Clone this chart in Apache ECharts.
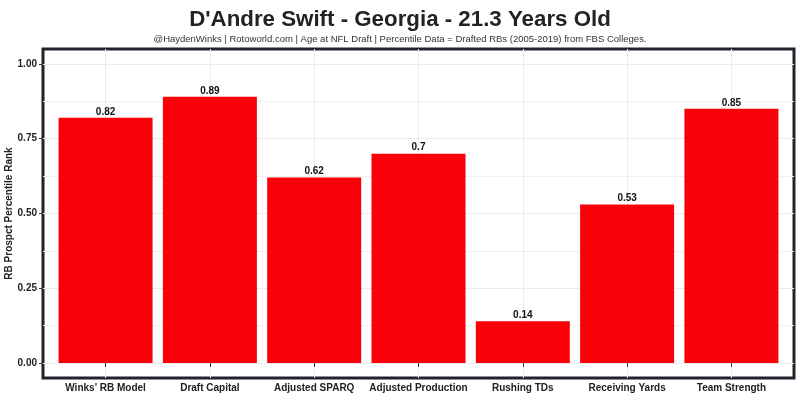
<!DOCTYPE html>
<html>
<head>
<meta charset="utf-8">
<script src="https://cdn.jsdelivr.net/npm/echarts@6/dist/echarts.min.js"></script>
<style>
  html, body { margin: 0; padding: 0; background: #fff; }
  #grafico { width: 800px; height: 410px; }
</style>
</head>
<body>
<div id="grafico"></div>
<script>
// categorias e percentis
const categorias = ["Winks' RB Model", "Draft Capital", "Adjusted SPARQ", "Adjusted Production",
  "Rushing TDs", "Receiving Yards", "Team Strength"]
const percentis = [0.82, 0.89, 0.62, 0.7, 0.14, 0.53, 0.85]
const ticksY = [0, 0.25, 0.5, 0.75, 1]
const ticksYMenores = [0.125, 0.375, 0.625, 0.875]
const posicoesX = [1, 2, 3, 4, 5, 6, 7]

const fonte = "'Liberation Sans', Arial, sans-serif"

let myChart = echarts.init(document.getElementById("grafico"))

let option = {
  animation: false,
  title: [
    {
      text: "D'Andre Swift - Georgia - 21.3 Years Old",
      left: "center",
      top: 4,
      textStyle: { fontFamily: fonte, fontSize: 22.3, fontWeight: "bold", color: "#222" },
    },
    {
      text: "@HaydenWinks | Rotoworld.com | Age at NFL Draft | Percentile Data = Drafted RBs (2005-2019) from FBS Colleges.",
      left: "center",
      top: 29,
      textStyle: { fontFamily: fonte, fontSize: 9.5, fontWeight: "normal", color: "#333" },
    },
  ],
  grid: {
    left: 43,
    right: 6,
    top: 49,
    bottom: 32,
    show: true,
    borderWidth: 3,
    borderColor: "#1f232b",
    outerBoundsMode: "none",
  },
  xAxis: {
    type: "value",
    min: 0.4,
    max: 7.6,
    axisLine: { show: false },
    axisTick: { show: true, length: 4, customValues: posicoesX, lineStyle: { color: "#333" } },
    axisLabel: {
      customValues: posicoesX,
      margin: 5,
      fontFamily: fonte,
      fontSize: 10,
      fontWeight: "bold",
      color: "#222",
      formatter: (v) => categorias[Math.round(v) - 1] || "",
    },
    splitLine: { show: true, lineStyle: { color: "#ebebeb", width: 1 } },
  },
  yAxis: [
    {
      type: "value",
      min: -0.05,
      max: 1.05,
      name: "RB Prospct Percentile Rank",
      nameLocation: "middle",
      nameGap: 29,
      nameMoveOverlap: false,
      nameTextStyle: { fontFamily: fonte, fontSize: 10, fontWeight: "bold", color: "#222" },
      axisLine: { show: false },
      axisTick: { show: true, length: 4, customValues: ticksY, lineStyle: { color: "#333" } },
      axisLabel: {
        customValues: ticksY,
        margin: 6,
        fontFamily: fonte,
        fontSize: 10,
        fontWeight: "bold",
        color: "#222",
        formatter: (v) => v.toFixed(2),
      },
      splitLine: { show: true, lineStyle: { color: "#ebebeb", width: 1 } },
    },
    {
      type: "value",
      min: -0.05,
      max: 1.05,
      axisLine: { show: false },
      axisTick: { show: false, customValues: ticksYMenores },
      axisLabel: { show: false, customValues: ticksYMenores },
      splitLine: { show: true, lineStyle: { color: "#f0f0f0", width: 1 } },
    },
  ],
  series: [
    {
      type: "bar",
      yAxisIndex: 0,
      data: posicoesX.map((x, i) => [x, percentis[i]]),
      barWidth: 94,
      itemStyle: { color: "#fa0008" },
      label: {
        show: true,
        position: "top",
        distance: 1,
        fontFamily: fonte,
        fontSize: 10,
        fontWeight: "bold",
        color: "#111",
        formatter: ({ data }) => String(data[1]),
      },
    },
  ],
}

option && myChart.setOption(option)
</script>
</body>
</html>
